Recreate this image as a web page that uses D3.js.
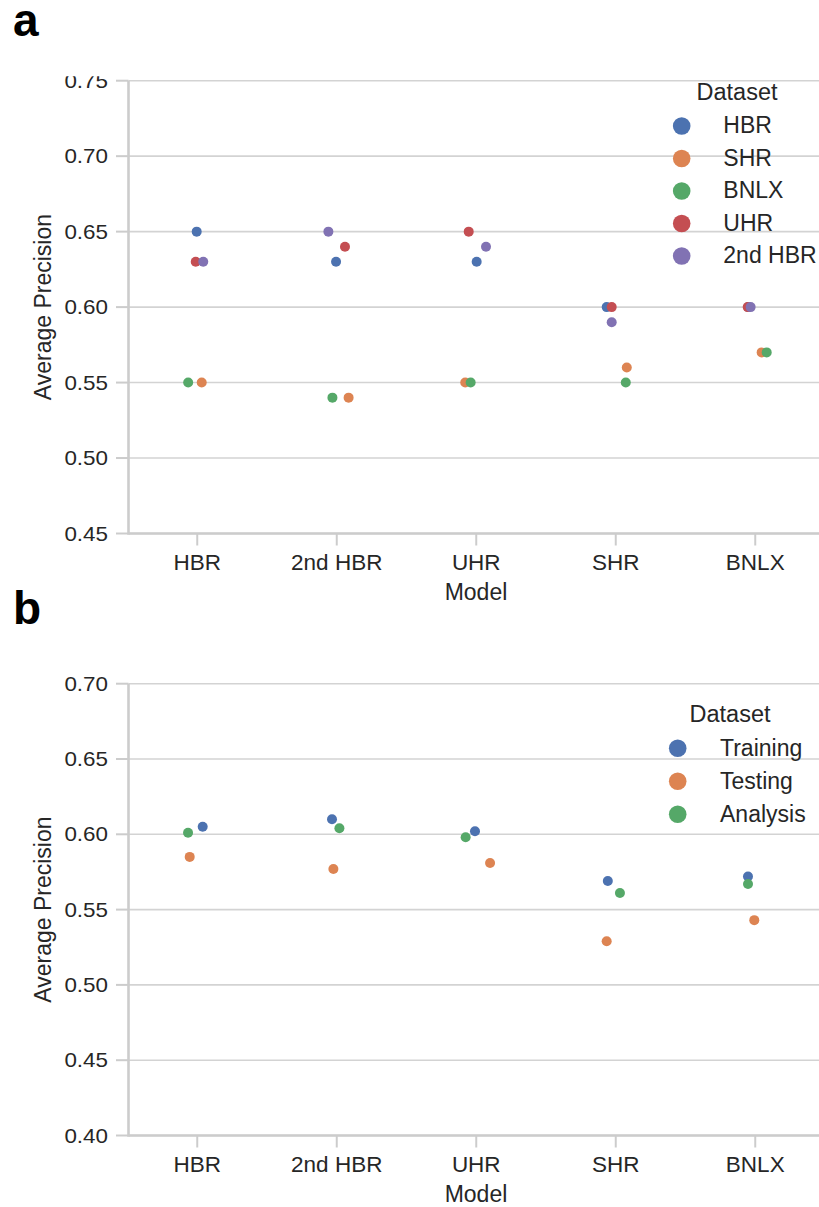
<!DOCTYPE html>
<html>
<head>
<meta charset="utf-8">
<script src="https://cdn.jsdelivr.net/npm/d3@7"></script>
<style>
  body { margin: 0; background: #fff; }
  text { font-family: "Liberation Sans", Arial, sans-serif; fill: #262626; }
</style>
</head>
<body>
<script>
/* Categories on the x axis (same for both panels) */
var models = ["HBR", "2nd HBR", "UHR", "SHR", "BNLX"];

/* Panel a: one array per dataset, one value per model */
var seriesA = ["HBR", "SHR", "BNLX", "UHR", "2nd HBR"];
var aHBR    = [0.65, 0.63, 0.63, 0.60, 0.60];
var aSHR    = [0.55, 0.54, 0.55, 0.56, 0.57];
var aBNLX   = [0.55, 0.54, 0.55, 0.55, 0.57];
var aUHR    = [0.63, 0.64, 0.65, 0.60, 0.60];
var a2ndHBR = [0.63, 0.65, 0.64, 0.59, 0.60];
// strip jitter, as a fraction of the category step
var jaHBR    = [-0.004, -0.005, 0.003, -0.065, -0.050];
var jaSHR    = [0.032, 0.085, -0.079, 0.079, 0.046];
var jaBNLX   = [-0.065, -0.031, -0.040, 0.072, 0.082];
var jaUHR    = [-0.011, 0.059, -0.054, -0.029, -0.054];
var ja2ndHBR = [0.043, -0.060, 0.070, -0.029, -0.033];

/* Panel b */
var seriesB = ["Training", "Testing", "Analysis"];
var bTraining = [0.605, 0.610, 0.602, 0.569, 0.572];
var bTesting  = [0.585, 0.577, 0.581, 0.529, 0.543];
var bAnalysis = [0.601, 0.604, 0.598, 0.561, 0.567];
var jbTraining = [0.039, -0.034, -0.009, -0.057, -0.052];
var jbTesting  = [-0.054, -0.024, 0.099, -0.065, -0.007];
var jbAnalysis = [-0.066, 0.019, -0.076, 0.030, -0.052];

var ticksA = [0.45, 0.50, 0.55, 0.60, 0.65, 0.70, 0.75];
var ticksB = [0.40, 0.45, 0.50, 0.55, 0.60, 0.65, 0.70];

/* seaborn "deep" palette */
var palette = ["#4c72b0", "#dd8452", "#55a868", "#c44e52", "#8172b3"];

var width = 819, height = 1207;
var gridColor = "#d3d3d3", spineColor = "#cccccc";

var svg = d3.select("body").append("svg")
    .attr("width", width)
    .attr("height", height);

var x = d3.scalePoint()
    .domain(models)
    .range([197.25, 755.25]);

function drawPanel(opt) {
  var g = svg.append("g").attr("transform", "translate(0," + opt.top + ")");

  var y = d3.scaleLinear()
      .domain([opt.ticks[0], opt.ticks[opt.ticks.length - 1]])
      .range([opt.plotH, 0]);

  var left = 128.5, right = width;

  /* panel letter */
  g.append("text")
    .attr("x", 13).attr("y", opt.letterY)
    .style("font-weight", "bold")
    .style("font-size", "46px")
    .style("fill", "#000")
    .text(opt.letter);

  var clipId = "clip-" + opt.letter;
  g.append("clipPath").attr("id", clipId)
    .append("rect").attr("x", 0).attr("y", opt.clipTop)
    .attr("width", width).attr("height", opt.plotH + 200);

  /* grid lines */
  g.selectAll(".grid").data(opt.ticks).enter().append("line")
    .attr("x1", left).attr("x2", right)
    .attr("y1", function(d) { return y(d); })
    .attr("y2", function(d) { return y(d); })
    .attr("stroke", gridColor)
    .attr("stroke-width", 1.6);

  /* y ticks + labels */
  g.selectAll(".ytick").data(opt.ticks).enter().append("line")
    .attr("x1", 116).attr("x2", left)
    .attr("y1", function(d) { return y(d); })
    .attr("y2", function(d) { return y(d); })
    .attr("stroke", spineColor)
    .attr("stroke-width", 2);

  g.append("g").attr("clip-path", "url(#" + clipId + ")")
    .selectAll(".ylab").data(opt.ticks).enter().append("text")
    .attr("transform", function(d) {
      return "translate(108," + (y(d) + 7) + ") scale(1.12,1)";
    })
    .style("text-anchor", "end")
    .style("font-size", "20px")
    .text(function(d) { return d3.format(".2f")(d); });

  /* x ticks + labels */
  g.selectAll(".xtick").data(models).enter().append("line")
    .attr("x1", function(d) { return x(d); })
    .attr("x2", function(d) { return x(d); })
    .attr("y1", opt.plotH).attr("y2", opt.plotH + 12)
    .attr("stroke", spineColor)
    .attr("stroke-width", 2);

  g.selectAll(".xlab").data(models).enter().append("text")
    .attr("x", function(d) { return x(d); })
    .attr("y", opt.plotH + 37)
    .style("text-anchor", "middle")
    .style("font-size", "22.5px")
    .text(function(d) { return d; });

  /* spines */
  g.append("line")
    .attr("x1", left).attr("x2", left)
    .attr("y1", 0).attr("y2", opt.plotH + 1.3)
    .attr("stroke", spineColor).attr("stroke-width", 2.6);
  g.append("line")
    .attr("x1", left).attr("x2", right)
    .attr("y1", opt.plotH).attr("y2", opt.plotH)
    .attr("stroke", spineColor).attr("stroke-width", 2.6);

  /* axis titles */
  g.append("text")
    .attr("x", 476).attr("y", opt.plotH + 67)
    .style("text-anchor", "middle")
    .style("font-size", "23px")
    .text("Model");
  g.append("text")
    .attr("transform", "translate(51," + (opt.plotH / 2) + ") rotate(-90)")
    .style("text-anchor", "middle")
    .style("font-size", "23px")
    .text("Average Precision");

  /* points: one group per dataset, drawn in legend order */
  var step = x.step();
  opt.series.forEach(function(name, si) {
    var vals = opt.values[si], jit = opt.jitter[si];
    g.append("g").selectAll("circle").data(models).enter().append("circle")
      .attr("cx", function(m, i) { return x(m) + jit[i] * step; })
      .attr("cy", function(m, i) { return y(vals[i]); })
      .attr("r", 5)
      .attr("fill", palette[si]);
  });

  /* legend */
  var lg = g.append("g");
  lg.append("text")
    .attr("x", opt.legend.titleX).attr("y", opt.legend.titleY)
    .style("text-anchor", "middle")
    .style("font-size", "23.5px")
    .text("Dataset");
  opt.series.forEach(function(name, si) {
    var cy = opt.legend.firstY + si * opt.legend.gap;
    lg.append("circle")
      .attr("cx", opt.legend.dotX).attr("cy", cy)
      .attr("r", 8.8).attr("fill", palette[si]);
    lg.append("text")
      .attr("x", opt.legend.textX).attr("y", cy + 7.5)
      .style("font-size", "23px")
      .text(name);
  });
}

drawPanel({
  letter: "a", top: 80.7, letterY: -44.7, clipTop: -4.5,
  plotH: 452.8, ticks: ticksA,
  series: seriesA,
  values: [aHBR, aSHR, aBNLX, aUHR, a2ndHBR],
  jitter: [jaHBR, jaSHR, jaBNLX, jaUHR, ja2ndHBR],
  legend: { titleX: 737, titleY: 19.3, dotX: 681.7, textX: 723.3, firstY: 45.3, gap: 32.5 }
});

drawPanel({
  letter: "b", top: 683.7, letterY: -59.7, clipTop: -40,
  plotH: 451.8, ticks: ticksB,
  series: seriesB,
  values: [bTraining, bTesting, bAnalysis],
  jitter: [jbTraining, jbTesting, jbAnalysis],
  legend: { titleX: 730, titleY: 38, dotX: 677.7, textX: 720, firstY: 64.6, gap: 33 }
});
</script>
</body>
</html>
